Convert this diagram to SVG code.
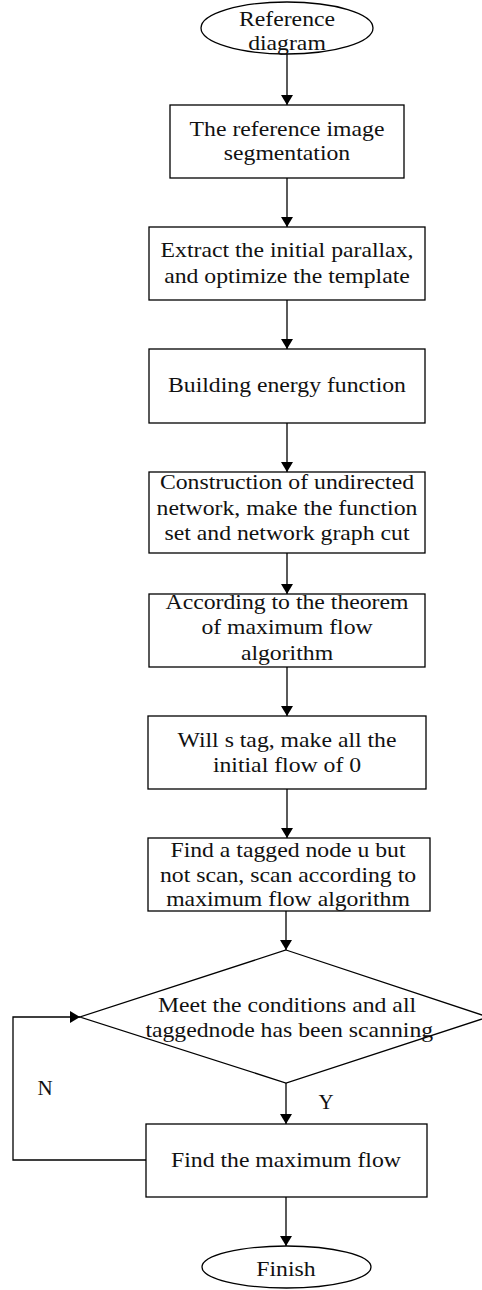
<svg xmlns="http://www.w3.org/2000/svg" width="482" height="1290" viewBox="0 0 482 1290">
  <defs>
    <marker id="arrow" viewBox="0 0 10 12" refX="10" refY="6" markerWidth="10" markerHeight="12" markerUnits="userSpaceOnUse" orient="auto">
      <path d="M0,0 L10,6 L0,12 z" fill="#000"/>
    </marker>
  </defs>
  <style>
    .shape { fill: #fff; stroke: #000; stroke-width: 1.3; }
    .edge { fill: none; stroke: #000; stroke-width: 1.3; marker-end: url(#arrow); }
    .plain { fill: none; stroke: #000; stroke-width: 1.3; }
    text { font-family: "Liberation Serif", "Times New Roman", serif; font-size: 21px; fill: #111; text-anchor: middle; }
  </style>
  <rect width="482" height="1290" fill="#fff"/>

  <!-- connectors -->
  <g id="connectors">
    <line class="edge" x1="287" y1="54" x2="287" y2="105"/>
    <line class="edge" x1="287" y1="178" x2="287" y2="227"/>
    <line class="edge" x1="287" y1="300" x2="287" y2="349"/>
    <line class="edge" x1="287" y1="423" x2="287" y2="472"/>
    <line class="edge" x1="287" y1="553" x2="287" y2="594"/>
    <line class="edge" x1="287" y1="667" x2="287" y2="716"/>
    <line class="edge" x1="287" y1="789" x2="287" y2="838"/>
    <line class="edge" x1="286" y1="911" x2="286" y2="950"/>
    <line class="edge" x1="286" y1="1083" x2="286" y2="1124"/>
    <line class="edge" x1="286" y1="1197" x2="286" y2="1246"/>
    <polyline class="edge" points="146,1160 13,1160 13,1017 80,1017"/>
    <text x="45" y="1095">N</text>
    <text x="326" y="1109">Y</text>
  </g>

  <!-- start -->
  <g id="start">
    <ellipse class="shape" cx="287" cy="28" rx="86" ry="26"/>
    <g transform="translate(287 0) scale(1.13 1)">
      <text x="0" y="26">Reference</text>
      <text x="0" y="50">diagram</text>
    </g>
  </g>

  <g id="segmentation">
    <rect class="shape" x="170" y="105" width="234" height="73"/>
    <g transform="translate(287 0) scale(1.13 1)">
      <text x="0" y="136">The reference image</text>
      <text x="0" y="160">segmentation</text>
    </g>
  </g>

  <g id="parallax">
    <rect class="shape" x="149" y="227" width="276" height="73"/>
    <g transform="translate(287 0) scale(1.13 1)">
      <text x="0" y="257">Extract the initial parallax,</text>
      <text x="0" y="283">and optimize the template</text>
    </g>
  </g>

  <g id="energy">
    <rect class="shape" x="149" y="349" width="276" height="74"/>
    <g transform="translate(287 0) scale(1.13 1)">
      <text x="0" y="392">Building energy function</text>
    </g>
  </g>

  <g id="network">
    <rect class="shape" x="149" y="472" width="276" height="81"/>
    <g transform="translate(287 0) scale(1.13 1)">
      <text x="0" y="489">Construction of undirected</text>
      <text x="0" y="515">network, make the function</text>
      <text x="0" y="540">set and network graph cut</text>
    </g>
  </g>

  <g id="theorem">
    <rect class="shape" x="149" y="594" width="276" height="73"/>
    <g transform="translate(287 0) scale(1.13 1)">
      <text x="0" y="609">According to the theorem</text>
      <text x="0" y="634">of maximum flow</text>
      <text x="0" y="660">algorithm</text>
    </g>
  </g>

  <g id="init-flow">
    <rect class="shape" x="148" y="716" width="278" height="73"/>
    <g transform="translate(287 0) scale(1.13 1)">
      <text x="0" y="747">Will s tag, make all the</text>
      <text x="0" y="772">initial flow of 0</text>
    </g>
  </g>

  <g id="scan">
    <rect class="shape" x="148" y="838" width="282" height="73"/>
    <g transform="translate(288 0) scale(1.13 1)">
      <text x="0" y="857">Find a tagged node u but</text>
      <text x="0" y="882">not scan, scan according to</text>
      <text x="0" y="906">maximum flow algorithm</text>
    </g>
  </g>

  <g id="condition">
    <polygon class="shape" points="286,950 488,1017 286,1083 80,1017"/>
    <g transform="translate(287 0) scale(1.13 1)">
      <text x="0" y="1012">Meet the conditions and all</text>
      <text x="2" y="1037">taggednode has been scanning</text>
    </g>
  </g>

  <g id="max-flow">
    <rect class="shape" x="146" y="1124" width="281" height="73"/>
    <g transform="translate(286 0) scale(1.13 1)">
      <text x="0" y="1167">Find the maximum flow</text>
    </g>
  </g>

  <g id="finish">
    <ellipse class="shape" cx="286.5" cy="1267" rx="84.5" ry="21"/>
    <g transform="translate(286 0) scale(1.13 1)">
      <text x="0" y="1276">Finish</text>
    </g>
  </g>
</svg>
